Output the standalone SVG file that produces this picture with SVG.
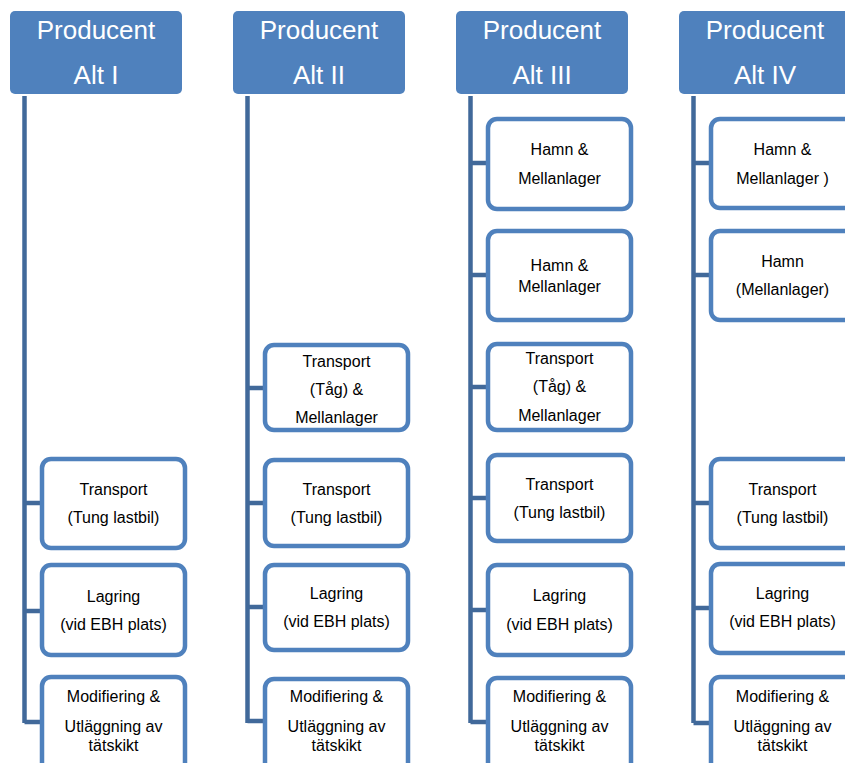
<svg xmlns="http://www.w3.org/2000/svg" width="845" height="763" viewBox="0 0 845 763">
<style>
.hdr{fill:#4f81bd}
.ht{fill:#ffffff;font-family:"Liberation Sans",Arial,sans-serif;font-size:26px;text-anchor:middle}
.box{fill:#ffffff;stroke:#4f81bd;stroke-width:4.5}
.t{fill:#000000;font-family:"Liberation Sans",Arial,sans-serif;font-size:16px;text-anchor:middle}
.ln{stroke:#41699a;stroke-width:4.5;fill:none}
</style>
<rect width="845" height="763" fill="#ffffff"/>
<g id="connectors">
<path class="ln" d="M24.5,96 V723 M24.5,503 H42 M24.5,611 H42 M24.5,722 H42"/>
<path class="ln" d="M247.5,96 V723 M247.5,388 H265 M247.5,503 H265 M247.5,607 H265 M247.5,721 H265"/>
<path class="ln" d="M470.5,96 V723 M470.5,163 H488 M470.5,275 H488 M470.5,387 H488 M470.5,498 H488 M470.5,610 H488 M470.5,722 H488"/>
<path class="ln" d="M693.5,96 V723 M693.5,163 H711 M693.5,275 H711 M693.5,503 H711 M693.5,608 H711 M693.5,723 H711"/>
</g>
<g id="h1"><rect class="hdr" x="10" y="11" width="172" height="83" rx="5"/><text class="ht" x="96" y="39">Producent</text><text class="ht" x="96" y="84">Alt I</text></g>
<g id="h2"><rect class="hdr" x="233" y="11" width="172" height="83" rx="5"/><text class="ht" x="319" y="39">Producent</text><text class="ht" x="319" y="84">Alt II</text></g>
<g id="h3"><rect class="hdr" x="456" y="11" width="172" height="83" rx="5"/><text class="ht" x="542" y="39">Producent</text><text class="ht" x="542" y="84">Alt III</text></g>
<g id="h4"><rect class="hdr" x="679" y="11" width="172" height="83" rx="5"/><text class="ht" x="765" y="39">Producent</text><text class="ht" x="765" y="84">Alt IV</text></g>

<g id="a1-transport"><rect class="box" x="42" y="459" width="143" height="89" rx="9"/><text class="t" x="113.5" y="495">Transport</text><text class="t" x="113.5" y="523">(Tung lastbil)</text></g>
<g id="a1-lagring"><rect class="box" x="42" y="565" width="143" height="90" rx="9"/><text class="t" x="113.5" y="602">Lagring</text><text class="t" x="113.5" y="630">(vid EBH plats)</text></g>
<g id="a1-modif"><rect class="box" x="42" y="677" width="143" height="100" rx="9"/><text class="t" x="113.5" y="702">Modifiering &amp;</text><text class="t" x="113.5" y="732">Utläggning av</text><text class="t" x="113.5" y="751">tätskikt</text></g>

<g id="a2-tag"><rect class="box" x="265" y="345" width="143" height="85" rx="9"/><text class="t" x="336.5" y="367">Transport</text><text class="t" x="336.5" y="395">(Tåg) &amp;</text><text class="t" x="336.5" y="423">Mellanlager</text></g>
<g id="a2-transport"><rect class="box" x="265" y="460" width="143" height="86" rx="9"/><text class="t" x="336.5" y="495">Transport</text><text class="t" x="336.5" y="523">(Tung lastbil)</text></g>
<g id="a2-lagring"><rect class="box" x="265" y="565" width="143" height="85" rx="9"/><text class="t" x="336.5" y="599">Lagring</text><text class="t" x="336.5" y="627">(vid EBH plats)</text></g>
<g id="a2-modif"><rect class="box" x="265" y="679" width="143" height="100" rx="9"/><text class="t" x="336.5" y="702">Modifiering &amp;</text><text class="t" x="336.5" y="732">Utläggning av</text><text class="t" x="336.5" y="751">tätskikt</text></g>

<g id="a3-hamn1"><rect class="box" x="488" y="119" width="143" height="90" rx="9"/><text class="t" x="559.5" y="155">Hamn &amp;</text><text class="t" x="559.5" y="184">Mellanlager</text></g>
<g id="a3-hamn2"><rect class="box" x="488" y="231" width="143" height="89" rx="9"/><text class="t" x="559.5" y="271">Hamn &amp;</text><text class="t" x="559.5" y="292">Mellanlager</text></g>
<g id="a3-tag"><rect class="box" x="488" y="344" width="143" height="86" rx="9"/><text class="t" x="559.5" y="364">Transport</text><text class="t" x="559.5" y="392">(Tåg) &amp;</text><text class="t" x="559.5" y="421">Mellanlager</text></g>
<g id="a3-transport"><rect class="box" x="488" y="455" width="143" height="86" rx="9"/><text class="t" x="559.5" y="490">Transport</text><text class="t" x="559.5" y="518">(Tung lastbil)</text></g>
<g id="a3-lagring"><rect class="box" x="488" y="565" width="143" height="90" rx="9"/><text class="t" x="559.5" y="601">Lagring</text><text class="t" x="559.5" y="630">(vid EBH plats)</text></g>
<g id="a3-modif"><rect class="box" x="488" y="678" width="143" height="100" rx="9"/><text class="t" x="559.5" y="702">Modifiering &amp;</text><text class="t" x="559.5" y="732">Utläggning av</text><text class="t" x="559.5" y="751">tätskikt</text></g>

<g id="a4-hamn1"><rect class="box" x="711" y="119" width="143" height="89" rx="9"/><text class="t" x="782.5" y="155">Hamn &amp;</text><text class="t" x="782.5" y="184">Mellanlager )</text></g>
<g id="a4-hamn2"><rect class="box" x="711" y="231" width="143" height="89" rx="9"/><text class="t" x="782.5" y="267">Hamn</text><text class="t" x="782.5" y="295">(Mellanlager)</text></g>
<g id="a4-transport"><rect class="box" x="711" y="459" width="143" height="89" rx="9"/><text class="t" x="782.5" y="495">Transport</text><text class="t" x="782.5" y="523">(Tung lastbil)</text></g>
<g id="a4-lagring"><rect class="box" x="711" y="564" width="143" height="89" rx="9"/><text class="t" x="782.5" y="599">Lagring</text><text class="t" x="782.5" y="627">(vid EBH plats)</text></g>
<g id="a4-modif"><rect class="box" x="711" y="677" width="143" height="100" rx="9"/><text class="t" x="782.5" y="702">Modifiering &amp;</text><text class="t" x="782.5" y="732">Utläggning av</text><text class="t" x="782.5" y="751">tätskikt</text></g>
</svg>
